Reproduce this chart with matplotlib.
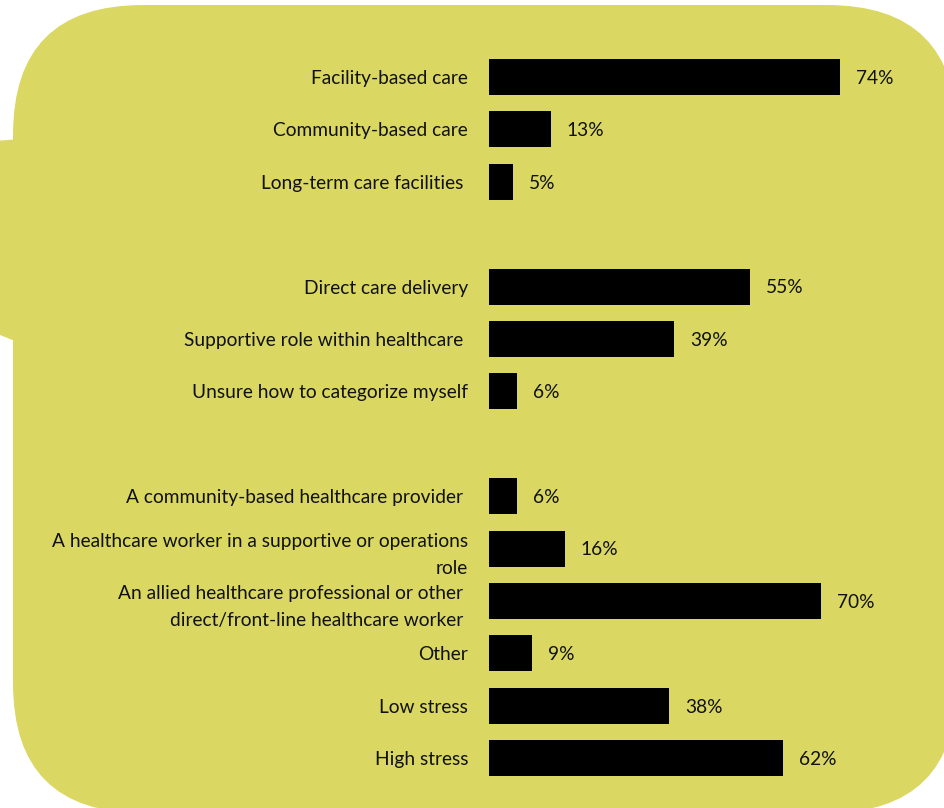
"""Horizontal bar chart: survey respondent breakdown on a rounded panel."""
import matplotlib.pyplot as plt
from matplotlib.patches import FancyBboxPatch, Polygon

plt.rcParams['font.family'] = ['Lato', 'DejaVu Sans']

labels = [
    'Facility-based care',
    'Community-based care',
    'Long-term care facilities ',
    'Direct care delivery',
    'Supportive role within healthcare ',
    'Unsure how to categorize myself',
    'A community-based healthcare provider ',
    'A healthcare worker in a supportive or operations\nrole',
    'An allied healthcare professional or other \ndirect/front-line healthcare worker ',
    'Other',
    'Low stress',
    'High stress',
]
values = [74, 13, 5, 55, 39, 6, 6, 16, 70, 9, 38, 62]
# row slots, with an empty slot between the first groups
rows = [0, 1, 2, 4, 5, 6, 8, 9, 10, 11, 12, 13]

W, H = 945, 808
PANEL = '#DAD862'
INK = '#111111'
FS = 13.8

fig = plt.figure(figsize=(W / 100, H / 100), dpi=100)

# background panel drawn in pixel units
bg = fig.add_axes([0, 0, 1, 1])
bg.set_xlim(0, W)
bg.set_ylim(H, 0)
bg.axis('off')
bg.add_patch(FancyBboxPatch((13, 5), 957 - 13, 813 - 5,
                            boxstyle='round,pad=0,rounding_size=130',
                            facecolor=PANEL, edgecolor='none'))
bg.add_patch(Polygon([(-5, 141), (20, 139), (20, 343), (-5, 333)],
                     closed=True, facecolor=PANEL, edgecolor='none'))

# bar axes: left edge at x=489 px, row pitch 52.4 px starting at y=77 px
x0 = 489
px_per_pct = 351 / 74
ax = fig.add_axes([x0 / W, 0, 1 - x0 / W, 1])
ax.set_xlim(0, (W - x0) / px_per_pct)
pitch, top = 52.4, 77
ax.set_ylim((H - top) / pitch, -top / pitch)
ax.patch.set_alpha(0)

ax.barh(rows, values, height=0.69, color='black')

for r, v in zip(rows, values):
    ax.annotate(f'{v}%', xy=(v, r), xytext=(11.5, -1), textcoords='offset points',
                ha='left', va='center', fontsize=FS, color=INK)

ax.set_yticks(rows)
ax.set_yticklabels(labels, fontsize=FS, color=INK, linespacing=1.7)
ax.tick_params(axis='y', length=0, pad=15)
ax.set_xticks([])
for s in ax.spines.values():
    s.set_visible(False)

fig.savefig('out.png', dpi=100)
